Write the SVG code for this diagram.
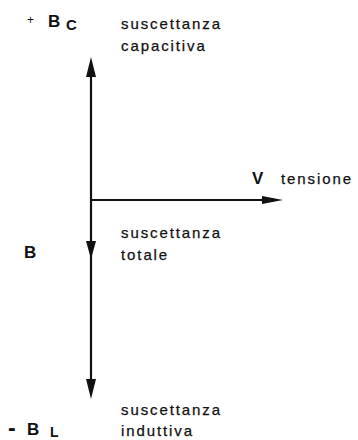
<svg xmlns="http://www.w3.org/2000/svg" width="358" height="440" viewBox="0 0 358 440">
<style>
.lab{font-family:"Liberation Sans",Arial,sans-serif;font-size:15px;letter-spacing:1.9px;fill:#111;stroke:#111;stroke-width:0.25}
.sym{font-family:"Liberation Sans",Arial,sans-serif;font-size:17px;font-weight:bold;fill:#111}
.sub{font-family:"Liberation Sans",Arial,sans-serif;font-size:15px;font-weight:bold;fill:#111}
.ax{stroke:#111;stroke-width:2.2;fill:none}
.ah{fill:#111}
</style>
<rect width="358" height="440" fill="#fff"/>
<g id="connectors">
<line class="ax" x1="91" y1="70" x2="91" y2="386"/>
<line class="ax" x1="91" y1="200" x2="268" y2="200"/>
<polygon class="ah" points="91,57 96,77 86,77"/>
<polygon class="ah" points="91,259 86,241 96,241"/>
<polygon class="ah" points="91,399 86,379 96,379"/>
<polygon class="ah" points="283,200 262,196 262,204"/>
</g>
<g id="node-Bc">
<text x="27" y="24" style="font-family:'Liberation Sans',Arial,sans-serif;font-size:12px;fill:#111">+</text>
<text x="48" y="27" class="sym">B</text>
<text x="66" y="30" class="sub">C</text>
<text x="121" y="29" class="lab">suscettanza</text>
<text x="121" y="51" class="lab">capacitiva</text>
</g>
<g id="node-V">
<text x="252" y="184" class="sym">V</text>
<text x="281" y="184" class="lab">tensione</text>
</g>
<g id="node-B">
<text x="24" y="258" class="sym">B</text>
<text x="121" y="238" class="lab">suscettanza</text>
<text x="121" y="260" class="lab">totale</text>
</g>
<g id="node-BL">
<text x="8" y="436" class="sym" style="font-size:23px">-</text>
<text x="27" y="435" class="sym">B</text>
<text x="50" y="437" class="sub" style="font-size:14px">L</text>
<text x="121" y="415" class="lab">suscettanza</text>
<text x="121" y="436" class="lab">induttiva</text>
</g>
</svg>
